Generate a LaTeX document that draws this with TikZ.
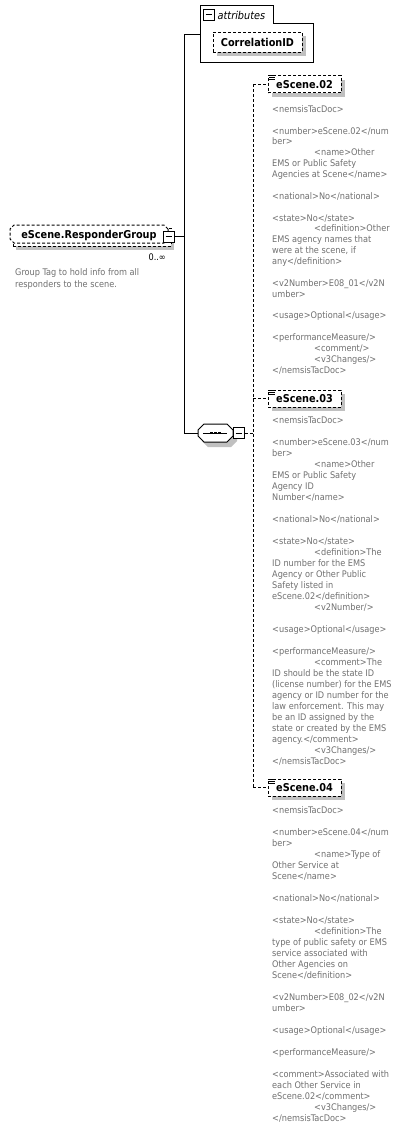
\documentclass[tikz,border=0pt]{standalone}
\usepackage{fontspec}
\usetikzlibrary{shapes.misc,shadows}
\IfFontExistsTF{DejaVu Sans Condensed}{%
  \newfontfamily\uifont{DejaVu Sans Condensed}%
  \newcommand\gsz{9.1}\newcommand\bsz{10.8}}{%
  \newfontfamily\uifont{DejaVu Sans}%
  \newcommand\gsz{8.2}\newcommand\bsz{9.7}}
\definecolor{txtgray}{RGB}{112,112,112}
\definecolor{shgray}{RGB}{192,192,192}
\newcommand\tabind{\hskip42pt\relax}
\newcommand\glines[2]{\vtop{\baselineskip=#1pt\lineskiplimit=-100pt\lineskip=0pt\let\\\cr\halign{##\hfil\cr#2\crcr}}}
\tikzset{
  gtext/.style={font=\uifont\fontsize{\gsz}{11}\selectfont, text=txtgray, inner sep=0pt, anchor=base west},
  lbl/.style={font=\uifont\bfseries\fontsize{\bsz}{12}\selectfont},
  dbox/.style={draw, dash pattern=on 3pt off 2pt, fill=white, line width=1pt, inner sep=0pt, text height=8pt, text depth=0pt},
  shd/.style={drop shadow={shadow xshift=4pt, shadow yshift=-4pt, fill=shgray, opacity=1}},
  minusbox/.style={draw, fill=white, line width=1pt, minimum size=11pt, inner sep=0pt,
    path picture={\draw[line width=1pt] ([xshift=2.5pt]path picture bounding box.west) -- ([xshift=-2.5pt]path picture bounding box.east);}},
  conn/.style={line width=1pt},
  dconn/.style={line width=1pt, dash pattern=on 3pt off 2pt},
  childbox/.style={dbox, lbl, shd, minimum width=73pt, minimum height=17pt},
  seqanchor/.style={rectangle, inner sep=0pt, minimum width=35pt, minimum height=18pt},
}
\begin{document}
\begin{tikzpicture}[x=1pt,y=-1pt]
\useasboundingbox (0,0) rectangle (403,1128);
\fill[white] (0,0) rectangle (403,1128);
\coordinate (tr) at (184,0);
\coordinate (dtr) at (253,0);
\coordinate (attrIn) at (200,34);

% attributes group
\draw[conn, fill=white] (200,62) -- (200,5) -- (273,5) -- (273,23) -- (313,23) -- (313,62) -- cycle;
\node[minusbox] (am) at (208.5,14.5) {};
\node[font=\uifont\itshape\fontsize{\bsz}{12}\selectfont, inner sep=0pt, anchor=base west] (atl) at (217.5,19.5) {attributes};
\node[dbox, lbl, shd, minimum width=89pt, minimum height=20pt] (cid) at (257.5,42) {CorrelationID};

% main element
\node[dbox, minimum width=158pt, minimum height=18pt,
  drop shadow={shadow xshift=3pt, shadow yshift=-4pt, fill=shgray, opacity=1}] (rgb) at (92,237) {};
\node[dbox, lbl, chamfered rectangle, chamfered rectangle xsep=2pt, chamfered rectangle ysep=2pt,
  minimum width=158pt, minimum height=18pt] (rg) at (89,234) {eScene.ResponderGroup};
\node[minusbox] (m1) at (168.5,236.5) {};
\node[font=\uifont\fontsize{\gsz}{11}\selectfont, inner sep=0pt, anchor=base east] (occ) at (166,260.7) {0..∞};
\node[gtext] (drg) at (15,275.7) {\glines{11.5}{Group Tag to hold info from all\\responders to the scene.}};

% sequence compositor (octagon)
\node[seqanchor] (seq) at (215.5,433) {};
\fill[shgray] (208,429) -- (231,429) -- (237,435) -- (237,441) -- (231,447) -- (208,447) -- (202,441) -- (202,435) -- cycle;
\draw[conn, fill=white] (204,424) -- (227,424) -- (233,430) -- (233,436) -- (227,442) -- (204,442) -- (198,436) -- (198,430) -- cycle;
\draw[conn] ([xshift=5pt]seq.west) -- ([xshift=-6pt]seq.east);
\foreach \dx in {-4,0,4} \fill ([xshift=\dx pt]seq.center) +(-1.3,-1.3) rectangle +(1.3,1.3);
\node[minusbox] (sm) at (238.5,433) {};

% trunk connectors
\draw[conn] (attrIn) -- (attrIn -| tr) -- (tr |- seq.west) -- (seq.west);
\draw[conn] (m1.east) -- (m1.east -| tr);

% children
\node[childbox] (e02) at (304.5,84) {eScene.02};
\node[childbox] (e03) at (304.5,398.5) {eScene.03};
\node[childbox] (e04) at (304.5,787.5) {eScene.04};
\foreach \n in {e02,e03,e04}{
  \foreach \k in {0.5,2.5,4.5}
    \draw[line width=0.8pt] ([shift={(1.5,\k)}]\n.north west) -- ++(5.5,0);
}
\draw[dconn] (sm.east) -- (sm.east -| dtr);
\draw[dconn] (dtr |- e02.west) -- (dtr |- e04.west);
\draw[dconn] (dtr |- e02.west) -- (e02.west);
\draw[dconn] (dtr |- e03.west) -- (e03.west);
\draw[dconn] (dtr |- e04.west) -- (e04.west);

% documentation texts
\node[gtext] (d02) at (272,112.3) {\glines{10.87}{%
<nemsisTacDoc>\\
\\
<number>eScene.02</num\\
ber>\\
\tabind<name>Other\\
EMS or Public Safety\\
Agencies at Scene</name>\\
\\
<national>No</national>\\
\\
<state>No</state>\\
\tabind<definition>Other\\
EMS agency names that\\
were at the scene, if\\
any</definition>\\
\\
<v2Number>E08\_01</v2N\\
umber>\\
\\
<usage>Optional</usage>\\
\\
<performanceMeasure/>\\
\tabind<comment/>\\
\tabind<v3Changes/>\\
</nemsisTacDoc>}};

\node[gtext] (d03) at (272,423) {\glines{11}{%
<nemsisTacDoc>\\
\\
<number>eScene.03</num\\
ber>\\
\tabind<name>Other\\
EMS or Public Safety\\
Agency ID\\
Number</name>\\
\\
<national>No</national>\\
\\
<state>No</state>\\
\tabind<definition>The\\
ID number for the EMS\\
Agency or Other Public\\
Safety listed in\\
eScene.02</definition>\\
\tabind<v2Number/>\\
\\
<usage>Optional</usage>\\
\\
<performanceMeasure/>\\
\tabind<comment>The\\
ID should be the state ID\\
(license number) for the EMS\\
agency or ID number for the\\
law enforcement. This may\\
be an ID assigned by the\\
state or created by the EMS\\
agency.</comment>\\
\tabind<v3Changes/>\\
</nemsisTacDoc>}};

\node[gtext] (d04) at (272,813) {\glines{11}{%
<nemsisTacDoc>\\
\\
<number>eScene.04</num\\
ber>\\
\tabind<name>Type of\\
Other Service at\\
Scene</name>\\
\\
<national>No</national>\\
\\
<state>No</state>\\
\tabind<definition>The\\
type of public safety or EMS\\
service associated with\\
Other Agencies on\\
Scene</definition>\\
\\
<v2Number>E08\_02</v2N\\
umber>\\
\\
<usage>Optional</usage>\\
\\
<performanceMeasure/>\\
\\
<comment>Associated with\\
each Other Service in\\
eScene.02</comment>\\
\tabind<v3Changes/>\\
</nemsisTacDoc>}};
\end{tikzpicture}
\end{document}
